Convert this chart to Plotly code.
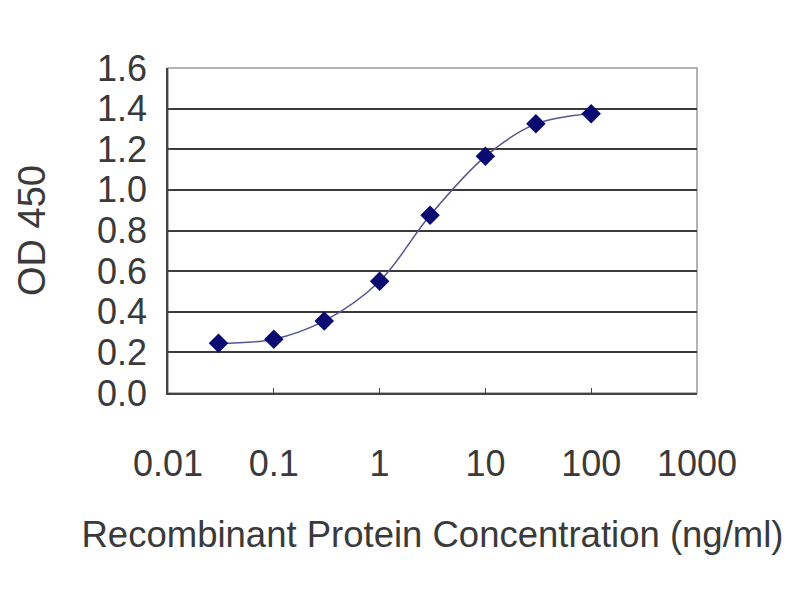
"""ELISA standard curve: OD 450 vs recombinant protein concentration."""
import plotly.graph_objects as go

FONT = "Liberation Sans, Arial, sans-serif"

# data
concentration = [0.03, 0.1, 0.3, 1, 3, 10, 30, 100]
od_450 = [0.245, 0.265, 0.355, 0.55, 0.875, 1.165, 1.325, 1.375]

x_tick_vals = [0.01, 0.1, 1, 10, 100, 1000]
x_tick_text = ["0.01", "0.1", "1", "10", "100", "1000"]
y_tick_vals = [0.0, 0.2, 0.4, 0.6, 0.8, 1.0, 1.2, 1.4, 1.6]

fig = go.Figure()
fig.add_trace(go.Scatter(
    x=concentration,
    y=od_450,
    mode="lines+markers",
    line=dict(color="#55558f", width=1.5, shape="spline", smoothing=1.0),
    marker=dict(symbol="diamond", size=15, color="#0a0a70",
                line=dict(color="#0a0a70", width=0)),
    showlegend=False,
))

# page body adds an 8px offset, so margins are 8px smaller on the top/left
fig.update_layout(
    width=800,
    height=600,
    margin=dict(l=160, r=111, t=60, b=215),
    paper_bgcolor="white",
    plot_bgcolor="white",
    font=dict(family=FONT, size=36, color="#3a3a3a"),
    shapes=[dict(type="rect", xref="paper", yref="paper", x0=0, x1=1, y0=0, y1=1,
                 line=dict(color="#9a9a9a", width=1.5), layer="below")],
)

fig.update_xaxes(
    type="log",
    range=[-2, 3],
    tickvals=x_tick_vals,
    ticktext=x_tick_text,
    ticks="inside",
    ticklen=5,
    tickcolor="#444444",
    ticklabelstandoff=38,
    showgrid=False,
    zeroline=False,
    showline=True,
    linecolor="#444444",
    linewidth=1.5,
    title=dict(text="Recombinant Protein Concentration (ng/ml)", standoff=38,
               font=dict(size=36.5)),
)

fig.update_yaxes(
    range=[0, 1.6],
    tickvals=y_tick_vals,
    tickformat=".1f",
    ticks="inside",
    ticklen=5,
    tickcolor="#444444",
    ticklabelstandoff=12,
    showgrid=True,
    gridcolor="#3a3a3a",
    gridwidth=2,
    zeroline=False,
    showline=True,
    linecolor="#444444",
    linewidth=1.5,
    title=dict(text="OD 450", standoff=40, font=dict(size=38)),
)

fig.write_html("out.html")
